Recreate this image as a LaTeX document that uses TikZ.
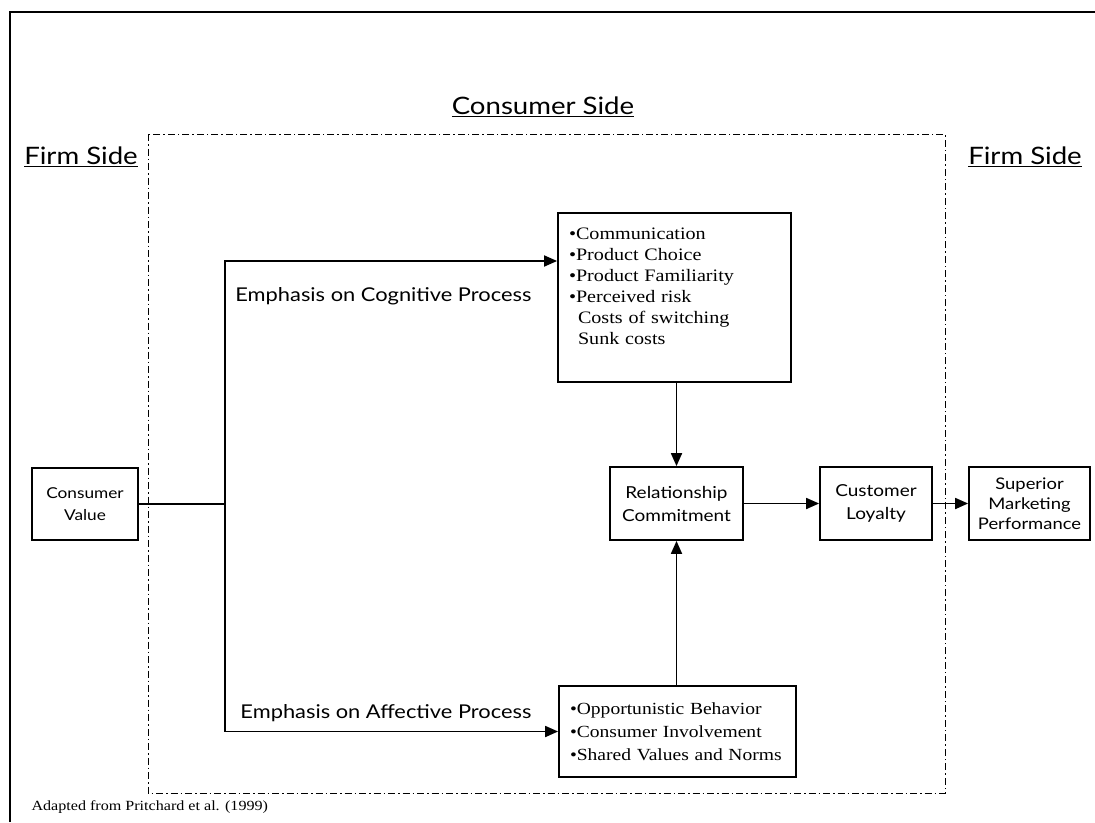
\documentclass[tikz,border=0pt]{standalone}
\usepackage{fontspec}
\setmainfont{Liberation Serif}[FakeStretch=1.15]
\newfontfamily\headfont{Lato}[FakeStretch=1.15]
\usetikzlibrary{arrows.meta}
\begin{document}
\begin{tikzpicture}[x=1pt,y=-1pt,
  box/.style={draw,line width=1.8pt,inner sep=0pt,align=center},
  listbox/.style={draw,line width=1.8pt,inner xsep=11pt,inner ysep=0pt,align=left},
  link/.style={line width=1.8pt},
  flow/.style={line width=1.8pt,-{Triangle[length=13pt,width=11pt]}},
  heading/.style={font=\headfont\fontsize{24}{28}\selectfont},
  pathlabel/.style={font=\headfont\fontsize{19}{22}\selectfont,anchor=east},
  zone/.style={line width=0.8pt,dash pattern=on 7pt off 3pt on 1.5pt off 3pt}]
\useasboundingbox (0,0) rectangle (1095,822);
\fill[white] (0,0) rectangle (1095,822);

% page frame
\draw[line width=2pt] (10,822) -- (10,12) -- (1095,12);

% consumer-side zone
\draw[zone] (148,134) rectangle (945,793);

% headings
\node[heading] (consumerside) at (543,107) {\underline{Consumer Side}};
\node[heading] (firmleft) at (81,157) {\underline{Firm Side}};
\node[heading] (firmright) at (1025,157) {\underline{Firm Side}};

% boxes
\node[box,minimum width=106pt,minimum height=72pt,
      font=\headfont\fontsize{15}{22}\selectfont] (cv) at (85,504) {Consumer\\Value};
\node[listbox,text width=211pt,minimum height=169pt,
      font=\fontsize{17.5}{21}\selectfont] (cog) at (674.5,297.5)
  {•Communication\\•Product Choice\\•Product Familiarity\\•Perceived risk\\
   \hspace*{9pt}Costs of switching\\\hspace*{9pt}Sunk costs\rule[-22pt]{0pt}{1pt}};
\node[listbox,text width=215pt,minimum height=91pt,
      font=\fontsize{17}{23}\selectfont] (aff) at (677.5,731.5)
  {•Opportunistic Behavior\\•Consumer Involvement\\•Shared Values and Norms};
\node[box,minimum width=133pt,minimum height=73pt,
      font=\headfont\fontsize{16.5}{23}\selectfont] (rc) at (676.5,503.5) {Relationship\\Commitment};
\node[box,minimum width=112pt,minimum height=73pt,
      font=\headfont\fontsize{16.5}{23}\selectfont] (cl) at (876,503.5) {Customer\\Loyalty};
\node[box,minimum width=121pt,minimum height=73pt,
      font=\headfont\fontsize{16}{20}\selectfont] (sup) at (1029.5,503.5) {Superior\\Marketing\\Performance};

% branching from consumer value
\coordinate (j) at (225,504);
\coordinate (jt) at (225,261);
\coordinate (jb) at (j |- aff.west);
\draw[link] (cv.east) -- (j);
\draw[flow] (j) -- (jt) -- (jt -| cog.west);
\draw[flow] (j) -- (jb) -- (aff.west);

\node[pathlabel] (cogl) at (535,296) {Emphasis on Cognitive Process};
\node[pathlabel] (affl) at (535,713) {Emphasis on Affective Process};

% into commitment and onward
\draw[flow] (rc.north |- cog.south) -- (rc.north);
\draw[flow] (rc.south |- aff.north) -- (rc.south);
\draw[flow] (rc.east) -- (cl.west);
\draw[flow] (cl.east) -- (sup.west);

% source note
\node[anchor=west,font=\fontsize{14}{16}\selectfont] (src) at (28,807) {Adapted from Pritchard et al. (1999)};
\end{tikzpicture}
\end{document}
